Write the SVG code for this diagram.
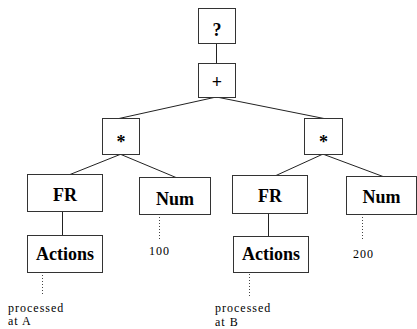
<svg xmlns="http://www.w3.org/2000/svg" width="417" height="329" viewBox="0 0 417 329">
<style>
.box{fill:#fff;stroke:#333;stroke-width:1}
.lbl{font-weight:bold;font-size:18px;text-anchor:middle;fill:#000}
.txt{font-size:12px;letter-spacing:1px;fill:#000}
.edge{stroke:#222;stroke-width:1;fill:none}
.dot{stroke:#444;stroke-width:1;stroke-dasharray:1 2;fill:none}
</style>
<rect width="417" height="329" fill="#fff"/>
<g id="connectors">
<line class="edge" x1="216.5" y1="43.5" x2="216.5" y2="63.5" stroke="#777"/>
<line class="edge" x1="214" y1="97.5" x2="119" y2="118.5"/>
<line class="edge" x1="219" y1="97.5" x2="324" y2="118.5"/>
<line class="edge" x1="120" y1="154.5" x2="70" y2="174.5"/>
<line class="edge" x1="121" y1="154.5" x2="176" y2="177.5"/>
<line class="edge" x1="322" y1="154.5" x2="276" y2="175.5"/>
<line class="edge" x1="324" y1="154.5" x2="383" y2="176.5"/>
<line class="edge" x1="62.5" y1="211.5" x2="62.5" y2="235.5"/>
<line class="edge" x1="268.5" y1="213.5" x2="268.5" y2="236.5"/>
<line class="dot" x1="42.5" y1="275" x2="42.5" y2="296"/>
<line class="dot" x1="249.5" y1="274" x2="249.5" y2="296"/>
<line class="dot" x1="159.5" y1="217" x2="159.5" y2="239"/>
<line class="dot" x1="362.5" y1="217" x2="362.5" y2="239"/>
</g>
<g id="n-q" font-family="Liberation Serif, serif"><rect class="box" x="198.5" y="8.5" width="37" height="35"/><text class="lbl" x="217" y="36" font-size="21">?</text></g>
<g id="n-plus" font-family="Liberation Serif, serif"><rect class="box" x="198.5" y="63.5" width="37" height="34"/><text class="lbl" x="217" y="88">+</text></g>
<g id="n-mul1" font-family="Liberation Serif, serif"><rect class="box" x="102.5" y="118.5" width="37" height="36"/><text class="lbl" x="121" y="148" font-size="16">*</text></g>
<g id="n-mul2" font-family="Liberation Serif, serif"><rect class="box" x="304.5" y="118.5" width="38" height="36"/><text class="lbl" x="323.5" y="148" font-size="16">*</text></g>
<g id="n-fr1" font-family="Liberation Serif, serif"><rect class="box" x="27.5" y="174.5" width="75" height="37"/><text class="lbl" x="65" y="201">FR</text></g>
<g id="n-num1" font-family="Liberation Serif, serif"><rect class="box" x="139.5" y="177.5" width="71" height="37"/><text class="lbl" x="175" y="205">Num</text></g>
<g id="n-fr2" font-family="Liberation Serif, serif"><rect class="box" x="232.5" y="175.5" width="75" height="38"/><text class="lbl" x="270" y="202">FR</text></g>
<g id="n-num2" font-family="Liberation Serif, serif"><rect class="box" x="346.5" y="176.5" width="70" height="38"/><text class="lbl" x="381.5" y="203">Num</text></g>
<g id="n-act1" font-family="Liberation Serif, serif"><rect class="box" x="27.5" y="235.5" width="75" height="37"/><text class="lbl" x="65" y="260">Actions</text></g>
<g id="n-act2" font-family="Liberation Serif, serif"><rect class="box" x="233.5" y="236.5" width="75" height="36"/><text class="lbl" x="271" y="260">Actions</text></g>
<g id="t-100" font-family="Liberation Serif, serif"><text class="txt" x="149" y="255">100</text></g>
<g id="t-200" font-family="Liberation Serif, serif"><text class="txt" x="353" y="258">200</text></g>
<g id="t-a" font-family="Liberation Serif, serif"><text class="txt" x="8" y="312">processed</text><text class="txt" x="8" y="325">at A</text></g>
<g id="t-b" font-family="Liberation Serif, serif"><text class="txt" x="215" y="312">processed</text><text class="txt" x="215" y="326">at B</text></g>
</svg>
